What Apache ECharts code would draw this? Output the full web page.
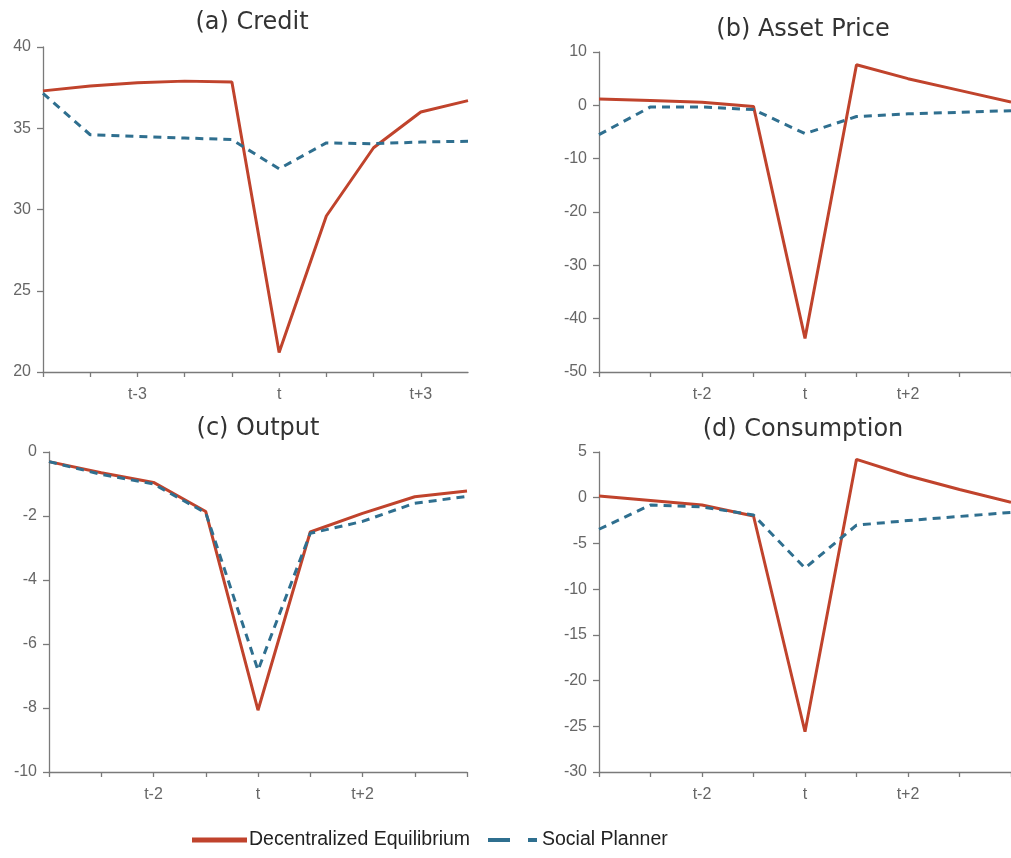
<!DOCTYPE html>
<html>
<head>
<meta charset="utf-8">
<script src="https://cdn.jsdelivr.net/npm/echarts@6/dist/echarts.min.js"></script>
<style>
html,body{margin:0;padding:0;background:#fff;}
#chart{width:1011px;height:858px;}
</style>
</head>
<body>
<div id="chart"></div>
<script>
// ---- data ----
const periodsA = ['t-5','t-4','t-3','t-2','t-1','t','t+1','t+2','t+3','t+4'];
const periodsBCD = ['t-4','t-3','t-2','t-1','t','t+1','t+2','t+3','t+4'];
const labelsA = ['t-3','t','t+3'];
const labelsBCD = ['t-2','t','t+2'];

const creditDE = [37.3, 37.6, 37.8, 37.9, 37.85, 21.2, 29.6, 33.8, 36.0, 36.7];
const creditSP = [37.15, 34.6, 34.5, 34.4, 34.3, 32.5, 34.1, 34.05, 34.15, 34.2];

const assetDE = [1.2, 0.9, 0.6, -0.2, -43.7, 7.6, 5.0, 2.8, 0.6];
const assetSP = [-5.5, -0.3, -0.3, -0.8, -5.3, -2.1, -1.6, -1.3, -1.0];

const outputDE = [-0.3, -0.65, -0.95, -1.86, -8.07, -2.5, -1.92, -1.4, -1.22];
const outputSP = [-0.3, -0.7, -1.0, -1.9, -6.82, -2.54, -2.17, -1.6, -1.39];

const consDE = [0.2, -0.3, -0.8, -2.0, -25.6, 4.2, 2.4, 0.9, -0.5];
const consSP = [-3.45, -0.8, -1.0, -1.9, -7.7, -3.0, -2.5, -2.05, -1.6];

const titles = ['(a) Credit', '(b) Asset Price', '(c) Output', '(d) Consumption'];
const seriesNames = ['Decentralized Equilibrium', 'Social Planner'];
// ----------------

const RED = '#c0432c';
const BLUE = '#2f6f8f';
const AXIS = '#7a7a7a';
const LABEL = '#666666';

const grids = [
  {left: 43, right: 543, top: 47, bottom: 486},
  {left: 599, right: -6, top: 52, bottom: 486},
  {left: 49, right: 544, top: 452, bottom: 86},
  {left: 599, right: -6, top: 452, bottom: 86}
];
const yRanges = [[20, 40, 5], [-50, 10, 10], [-10, 0, 2], [-30, 5, 5]];
const cats = [periodsA, periodsBCD, periodsBCD, periodsBCD];
const shown = [labelsA, labelsBCD, labelsBCD, labelsBCD];
const dataDE = [creditDE, assetDE, outputDE, consDE];
const dataSP = [creditSP, assetSP, outputSP, consSP];
const titlePos = [[252, 11], [803, 18], [258, 417], [803, 418]];

const chart = echarts.init(document.getElementById('chart'), null, {renderer: 'canvas'});

const option = {
  animation: false,
  backgroundColor: '#fff',
  title: titles.map((t, i) => ({
    text: t,
    left: titlePos[i][0],
    top: titlePos[i][1],
    textAlign: 'center',
    padding: 0,
    textStyle: {fontFamily: 'DejaVu Sans', fontWeight: 'normal', fontSize: 24, color: '#333'}
  })),
  grid: grids,
  xAxis: cats.map((c, i) => ({
    type: 'category',
    gridIndex: i,
    data: c,
    boundaryGap: false,
    axisLine: {onZero: false, lineStyle: {color: AXIS, width: 1.3}},
    axisTick: {show: true, length: 5, lineStyle: {color: AXIS, width: 1.3},
      interval: i === 0 ? ((idx) => idx < c.length - 1) : 0},
    axisLabel: {
      interval: (idx, val) => shown[i].indexOf(val) >= 0,
      color: LABEL, fontFamily: 'Liberation Sans', fontSize: 16, margin: 15
    },
    splitLine: {show: false}
  })),
  yAxis: yRanges.map((r, i) => ({
    type: 'value',
    gridIndex: i,
    min: r[0], max: r[1], interval: r[2],
    axisLine: {show: true, onZero: false, lineStyle: {color: AXIS, width: 1.3}},
    axisTick: {show: true, length: 6, lineStyle: {color: AXIS, width: 1.3}},
    axisLabel: {color: LABEL, fontFamily: 'Liberation Sans', fontSize: 16, margin: 12},
    splitLine: {show: false}
  })),
  legend: [
    {
      data: [{name: seriesNames[0], icon: 'rect'}],
      left: 192, top: 830,
      itemWidth: 55, itemHeight: 5, itemGap: 0,
      textStyle: {fontFamily: 'Liberation Sans', fontSize: 19.5, color: '#222', padding: [0,0,0,-3]},
      padding: 0
    },
    {
      data: [{name: seriesNames[1], icon: 'path://M0,0h22v4h-22z M40,0h9v4h-9z'}],
      left: 488, top: 830,
      itemWidth: 49, itemHeight: 4, itemGap: 0,
      textStyle: {fontFamily: 'Liberation Sans', fontSize: 19.5, color: '#222', padding: [0,0,0,0]},
      padding: 0
    }
  ],
  series: []
};

for (let i = 0; i < 4; i++) {
  option.series.push({
    name: seriesNames[0], type: 'line', xAxisIndex: i, yAxisIndex: i,
    data: dataDE[i], symbol: 'none', z: 3,
    lineStyle: {color: RED, width: 3}, itemStyle: {color: RED}
  });
  option.series.push({
    name: seriesNames[1], type: 'line', xAxisIndex: i, yAxisIndex: i,
    data: dataSP[i], symbol: 'none', z: 4,
    lineStyle: {color: BLUE, width: 3, type: [8, 6]}, itemStyle: {color: BLUE}
  });
}

chart.setOption(option);
</script>
</body>
</html>
